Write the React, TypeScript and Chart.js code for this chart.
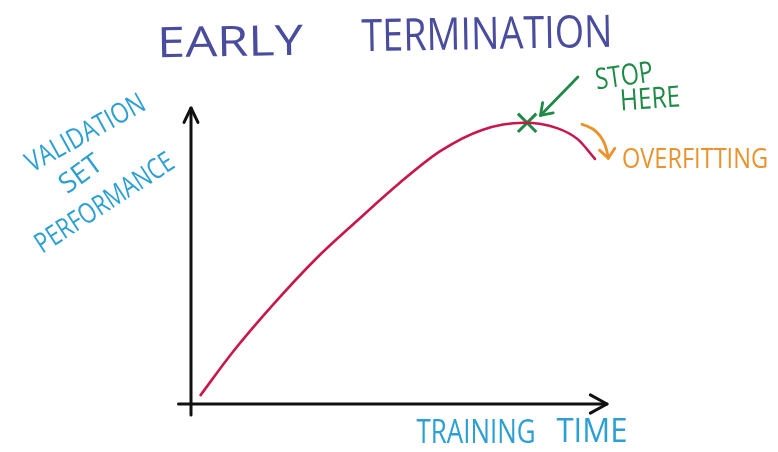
import { useEffect, useRef } from 'react';
import { Chart, registerables } from 'chart.js';

Chart.register(...registerables);

// Validation-set performance vs training time (arbitrary units, 0–100)
const trainingTime = [2.3, 10, 20, 30, 40, 50, 60, 70, 80, 88, 93, 97.1];
const performance = [3.0, 17.5, 34.0, 49.0, 62.0, 74.5, 85.5, 92.6, 95.0, 93.2, 89.4, 82.8];
const stopTime = [80.8];
const stopPerf = [95.0];

const titleWords = ['EARLY', 'TERMINATION'];
const yLabelLines = ['VALIDATION', 'SET', 'PERFORMANCE'];
const xLabelWords = ['TRAINING', 'TIME'];
const stopLines = ['STOP', 'HERE'];
const overfitLabel = 'OVERFITTING';

const C_TITLE = '#4a4c9e';
const C_LABEL = '#2c9fd3';
const C_CURVE = '#c8174b';
const C_GREEN = '#1f8a45';
const C_ORANGE = '#ea922b';
const C_AXIS = '#111111';
const FONT = '"Open Sans", sans-serif';

function fitText(ctx: CanvasRenderingContext2D, text: string, cx: number, cy: number, w: number, h: number, color: string, angleDeg = 0) {
  const size = h / 0.714;
  ctx.save();
  ctx.translate(cx, cy);
  ctx.rotate((angleDeg * Math.PI) / 180);
  ctx.font = `400 ${size}px ${FONT}`;
  const m = ctx.measureText(text).width;
  ctx.scale(w / m, 1);
  ctx.fillStyle = color;
  ctx.textAlign = 'center';
  ctx.textBaseline = 'alphabetic';
  ctx.fillText(text, 0, h / 2);
  ctx.restore();
}

function arrowHead(ctx: CanvasRenderingContext2D, tx: number, ty: number, ang: number, len: number, spread: number) {
  ctx.beginPath();
  ctx.moveTo(tx - len * Math.cos(ang - spread), ty - len * Math.sin(ang - spread));
  ctx.lineTo(tx, ty);
  ctx.lineTo(tx - len * Math.cos(ang + spread), ty - len * Math.sin(ang + spread));
  ctx.stroke();
}

const sketchPlugin = {
  id: 'sketch',
  beforeDatasetsDraw(chart: any) {
    const ctx: CanvasRenderingContext2D = chart.ctx;
    const xs = chart.scales.x;
    const ys = chart.scales.y;
    const x0 = xs.getPixelForValue(0);
    const y0 = ys.getPixelForValue(0);
    const xl = xs.getPixelForValue(-3);
    const xr = xs.getPixelForValue(100);
    const yb = ys.getPixelForValue(-3.7);
    const yt = ys.getPixelForValue(100);
    ctx.save();
    ctx.strokeStyle = C_AXIS;
    ctx.lineWidth = 3;
    ctx.lineCap = 'round';
    ctx.lineJoin = 'round';
    ctx.beginPath();
    ctx.moveTo(xl, y0);
    ctx.lineTo(xr, y0);
    ctx.stroke();
    ctx.beginPath();
    ctx.moveTo(x0, yb);
    ctx.lineTo(x0, yt);
    ctx.stroke();
    arrowHead(ctx, xr, y0, 0, 19, 0.5);
    arrowHead(ctx, x0, yt, -Math.PI / 2, 16, 0.45);
    ctx.restore();
  },
  afterDraw(chart: any) {
    const ctx: CanvasRenderingContext2D = chart.ctx;
    const xs = chart.scales.x;
    const ys = chart.scales.y;
    const px = (v: number) => xs.getPixelForValue(v);
    const py = (v: number) => ys.getPixelForValue(v);

    // Title
    fitText(ctx, titleWords[0], 230, 41, 146, 30, C_TITLE, -1);
    fitText(ctx, titleWords[1], 487, 33, 251, 32, C_TITLE, -1);

    // Y label (tilted)
    fitText(ctx, yLabelLines[0], 85, 132, 132, 20, C_LABEL, -29);
    fitText(ctx, yLabelLines[1], 80, 173, 46, 20, C_LABEL, -36);
    fitText(ctx, yLabelLines[2], 104, 202, 160, 20, C_LABEL, -33);

    // X label
    fitText(ctx, xLabelWords[0], 476, 431, 119, 23, C_LABEL, 0);
    fitText(ctx, xLabelWords[1], 592, 430, 71, 24, C_LABEL, 0);

    // Stop here
    fitText(ctx, stopLines[0], 624, 75, 58, 21, C_GREEN, -8);
    fitText(ctx, stopLines[1], 650, 98, 60, 21, C_GREEN, -4);

    // Overfitting
    fitText(ctx, overfitLabel, 695, 158, 146, 20, C_ORANGE, 0);

    ctx.save();
    ctx.lineCap = 'round';
    ctx.lineJoin = 'round';
    // Green arrow pointing to stop mark
    const gx1 = px(93.0), gy1 = py(110.5);
    const gx2 = px(84.0), gy2 = py(97.5);
    ctx.strokeStyle = C_GREEN;
    ctx.lineWidth = 2.8;
    ctx.beginPath();
    ctx.moveTo(gx1, gy1);
    ctx.lineTo(gx2, gy2);
    ctx.stroke();
    arrowHead(ctx, gx2, gy2, Math.atan2(gy2 - gy1, gx2 - gx1), 13, 0.6);

    // Orange curved arrow toward overfitting
    const ox1 = px(94.0), oy1 = py(94.5);
    const ocx = px(99.5), ocy = py(92.5);
    const ox2 = px(100.3), oy2 = py(83.0);
    ctx.strokeStyle = C_ORANGE;
    ctx.lineWidth = 2.8;
    ctx.beginPath();
    ctx.moveTo(ox1, oy1);
    ctx.quadraticCurveTo(ocx, ocy, ox2, oy2);
    ctx.stroke();
    arrowHead(ctx, ox2, oy2, Math.atan2(oy2 - ocy, ox2 - ocx), 12, 0.7);
    ctx.restore();
  },
};

export default function App() {
  const ref = useRef<HTMLCanvasElement>(null);
  useEffect(() => {
    if (!ref.current) return;
    const curve = trainingTime.map((t, i) => ({ x: t, y: performance[i] }));
    const stop = stopTime.map((t, i) => ({ x: t, y: stopPerf[i] }));
    const chart = new Chart(ref.current, {
      type: 'line',
      data: {
        datasets: [
          {
            data: curve,
            borderColor: C_CURVE,
            borderWidth: 2.6,
            pointRadius: 0,
            cubicInterpolationMode: 'monotone',
            fill: false,
            borderCapStyle: 'round',
          },
          {
            data: stop,
            showLine: false,
            pointStyle: 'crossRot',
            pointRadius: 13,
            borderColor: C_GREEN,
            borderWidth: 3,
          },
        ],
      },
      options: {
        animation: false,
        responsive: true,
        maintainAspectRatio: false,
        events: [],
        layout: { padding: { left: 191, right: 171, top: 108, bottom: 48 } },
        scales: {
          x: { type: 'linear', min: 0, max: 100, display: false },
          y: { type: 'linear', min: 0, max: 100, display: false },
        },
        plugins: { legend: { display: false }, tooltip: { enabled: false }, title: { display: false } },
      },
      plugins: [sketchPlugin],
    } as any);
    return () => chart.destroy();
  }, []);
  return (
    <div style={{ position: 'fixed', left: 0, top: 0, width: 778, height: 452, background: '#ffffff' }}>
      <canvas ref={ref} />
    </div>
  );
}
